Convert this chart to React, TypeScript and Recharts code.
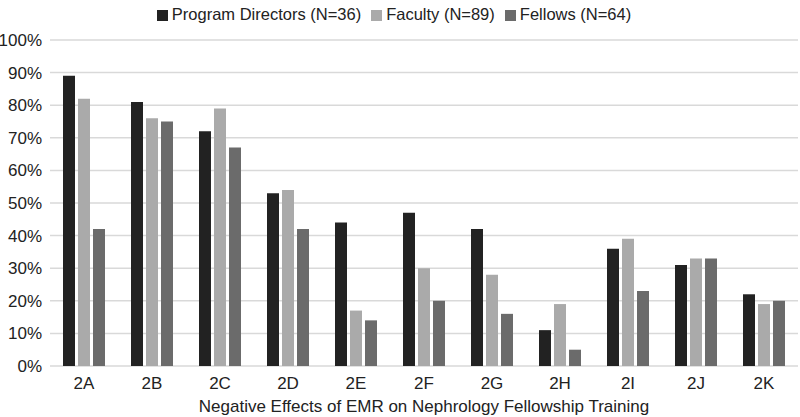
import { BarChart, Bar, XAxis, YAxis, CartesianGrid, Legend } from "recharts";

const CATEGORIES = ["2A", "2B", "2C", "2D", "2E", "2F", "2G", "2H", "2I", "2J", "2K"];
const DIRECTORS = [89, 81, 72, 53, 44, 47, 42, 11, 36, 31, 22];
const FACULTY = [82, 76, 79, 54, 17, 30, 28, 19, 39, 33, 19];
const FELLOWS = [42, 75, 67, 42, 14, 20, 16, 5, 23, 33, 20];
const Y_TICKS = [0, 10, 20, 30, 40, 50, 60, 70, 80, 90, 100];
const SERIES_ORDER = ["directors", "faculty", "fellows"];

const data = CATEGORIES.map((name, i) => ({
  name,
  directors: DIRECTORS[i],
  faculty: FACULTY[i],
  fellows: FELLOWS[i],
}));

const FONT = "'Liberation Sans', Arial, Helvetica, sans-serif";

export default function App() {
  return (
    <div style={{ position: "fixed", top: 0, left: 0, width: 800, height: 417, background: "#fff", fontFamily: FONT }}>
      <BarChart width={800} height={417} data={data} margin={{ top: 21, right: 2, left: 0, bottom: 0 }} barSize={12} barGap={3}>
        <CartesianGrid vertical={false} stroke="#d9d9d9" strokeWidth={1.5} />
        <Legend
          verticalAlign="top"
          align="center"
          iconType="square"
          iconSize={11}
          itemSorter={(item: any) => SERIES_ORDER.indexOf(item.dataKey)}
          wrapperStyle={{ top: 5, fontSize: 16.5, color: "#222", fontFamily: FONT }}
          formatter={(value) => <span style={{ color: "#222" }}>{value}</span>}
        />
        <XAxis
          dataKey="name"
          height={51}
          axisLine={false}
          tickLine={false}
          tick={{ fill: "#222", fontSize: 17, fontFamily: FONT }}
          tickMargin={5}
          label={{ value: "Negative Effects of EMR on Nephrology Fellowship Training", position: "insideBottom", offset: 5, fill: "#222", fontSize: 17, fontFamily: FONT }}
        />
        <YAxis
          width={50}
          domain={[0, 100]}
          ticks={Y_TICKS}
          axisLine={false}
          tickLine={false}
          tickFormatter={(v) => `${v}%`}
          tick={{ fill: "#222", fontSize: 17, fontFamily: FONT }}
          tickMargin={2}
        />
        <Bar dataKey="directors" name="Program Directors (N=36)" fill="#222222" isAnimationActive={false} />
        <Bar dataKey="faculty" name="Faculty (N=89)" fill="#aaaaaa" isAnimationActive={false} />
        <Bar dataKey="fellows" name="Fellows (N=64)" fill="#6b6b6b" isAnimationActive={false} />
      </BarChart>
    </div>
  );
}
